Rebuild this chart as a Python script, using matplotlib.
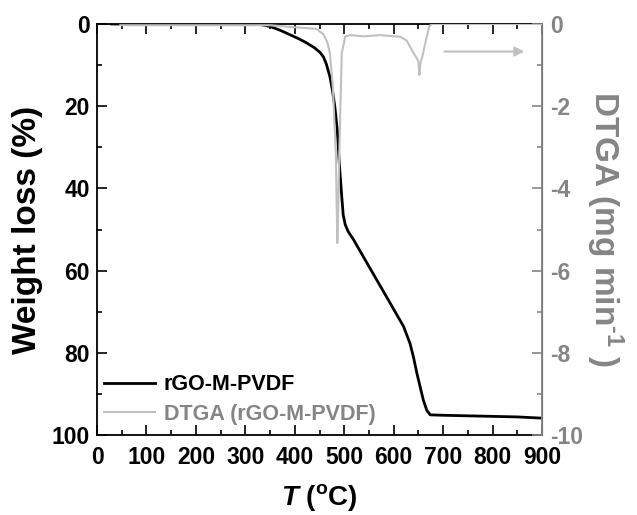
import numpy as np
import matplotlib
matplotlib.use("Agg")
import matplotlib.pyplot as plt
from matplotlib.ticker import MultipleLocator

# === DATA ===
temp_wl = [30, 100, 200, 300, 330, 350, 370, 390, 410, 424, 440, 451, 458, 464,
           471, 476, 481, 486, 490, 495, 498, 502, 508, 519, 540, 564, 590, 620,
           633, 640, 647, 654, 660, 667, 674, 700, 775, 850, 900]
weight_loss = [0, 0, 0, 0, 0.1, 0.6, 1.5, 2.6, 3.7, 4.6, 5.8, 6.9, 8.0, 9.8,
               12.8, 16.0, 20.1, 25.8, 33.9, 42.0, 46.5, 48.8, 50.5, 52.5, 56.9,
               61.9, 67.3, 73.6, 77.7, 81.0, 85.0, 88.5, 91.5, 94.0, 95.1, 95.2,
               95.4, 95.6, 95.9]

temp_dtga = [47, 100, 200, 300, 350, 390, 424, 444, 458, 466, 471, 477, 483, 486,
             488, 490, 495, 502, 512, 540, 572, 600, 613, 626, 640, 650, 652, 654,
             657, 667, 672, 677, 750, 900]
dtga = [-0.03, -0.03, -0.03, -0.03, -0.03, -0.07, -0.10, -0.12, -0.25, -0.45,
        -0.71, -1.53, -3.14, -5.33, -4.5, -3.14, -0.71, -0.31, -0.27, -0.30,
        -0.27, -0.30, -0.31, -0.40, -0.70, -0.90, -1.24, -0.95, -0.84, -0.31,
        -0.06, 0.0, 0.0, 0.0]

GRAY_LINE = "#c0c0c0"
GRAY_TEXT = "#858585"

plt.rcParams["font.family"] = ["Liberation Sans", "DejaVu Sans"]
plt.rcParams["font.weight"] = "bold"
plt.rcParams["axes.unicode_minus"] = False
plt.rcParams["mathtext.fontset"] = "custom"
plt.rcParams["mathtext.rm"] = "Liberation Sans:bold"
plt.rcParams["mathtext.bf"] = "Liberation Sans:bold"
plt.rcParams["mathtext.it"] = "Liberation Sans:italic:bold"

fig = plt.figure(figsize=(6.37, 5.15), dpi=100)
ax = fig.add_axes([97 / 637, 80 / 515, 445 / 637, 411 / 515])
ax2 = ax.twinx()

l1, = ax.plot(temp_wl, weight_loss, color="black", lw=2, zorder=3)
l2, = ax2.plot(temp_dtga, dtga, color=GRAY_LINE, lw=1.5, zorder=4)

ax.set_xlim(0, 900)
ax.set_ylim(100, 0)
ax2.set_ylim(-10, 0)

ax.xaxis.set_major_locator(MultipleLocator(100))
ax.xaxis.set_minor_locator(MultipleLocator(50))
ax.yaxis.set_major_locator(MultipleLocator(20))
ax.yaxis.set_minor_locator(MultipleLocator(10))
ax2.yaxis.set_major_locator(MultipleLocator(2))
ax2.yaxis.set_minor_locator(MultipleLocator(1))

ax.tick_params(which="both", direction="in", top=True, right=False, width=1.2,
               labelsize=16.5, pad=5)
ax.tick_params(axis="x", which="both", pad=8)
ax.tick_params(which="major", length=7)
ax.tick_params(which="minor", length=3.5)
ax2.tick_params(which="both", direction="in", width=1.2, colors=GRAY_TEXT,
                labelsize=16.5, pad=6)
ax2.tick_params(which="major", length=7)
ax2.tick_params(which="minor", length=3.5)

for s in ["left", "bottom", "top"]:
    ax.spines[s].set_linewidth(1.3)
ax2.spines["right"].set_color(GRAY_TEXT)
ax2.spines["right"].set_linewidth(1.3)
ax2.spines["left"].set_visible(False)
ax2.spines["top"].set_visible(False)
ax2.spines["bottom"].set_visible(False)

ax.set_xlabel("$\\mathit{T}$ ($^{\\mathrm{o}}$C)", fontsize=20, fontweight="bold", labelpad=9)
ax.set_ylabel("Weight loss (%)", fontsize=24, fontweight="bold", labelpad=6)
ax2.set_ylabel("DTGA (mg min$^{\\text{-1}}$ )", fontsize=24, fontweight="bold",
               color=GRAY_TEXT, rotation=270, labelpad=30)

# arrow pointing to right axis
ax2.annotate("", xy=(870, -0.67), xytext=(697, -0.67),
             arrowprops=dict(arrowstyle="-|>", color=GRAY_LINE, lw=1.5,
                             mutation_scale=14))

leg = ax.legend([l1, l2], ["rGO-M-PVDF", "DTGA (rGO-M-PVDF)"], loc="lower left",
                bbox_to_anchor=(0.015, 0.025), frameon=False, fontsize=15.5,
                handlelength=2.4, borderaxespad=0, borderpad=0,
                handletextpad=0.4, labelspacing=0.4)
leg.get_texts()[1].set_color(GRAY_TEXT)
leg.set_zorder(10)

fig.savefig("out.png", dpi=100)
